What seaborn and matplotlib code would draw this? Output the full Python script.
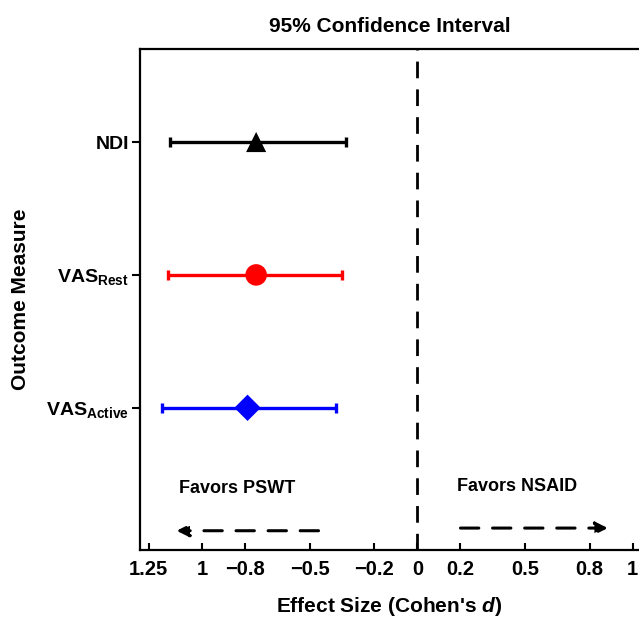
import matplotlib
matplotlib.use("Agg")
import matplotlib.pyplot as plt
import seaborn as sns
import pandas as pd

# ---- data ----
measures = ["NDI", "VAS_Rest", "VAS_Active"]
measure_labels = [r"NDI", r"VAS$_{\mathbf{Rest}}$", r"VAS$_{\mathbf{Active}}$"]
measure_pos = [3, 2, 1]
effect = [-0.75, -0.75, -0.79]
ci_low = [-1.15, -1.16, -1.19]
ci_high = [-0.33, -0.35, -0.38]
colors = ["black", "red", "blue"]
markers = ["^", "o", "D"]

xtick_vals = [-1.25, -1.0, -0.8, -0.5, -0.2, 0, 0.2, 0.5, 0.8, 1.0]
xtick_labels = ["1.25", "1", "\u22120.8", "\u22120.5", "\u22120.2", "0", "0.2", "0.5", "0.8", "1"]

sns.set_style("ticks")
plt.rcParams["font.family"] = ["Liberation Sans", "DejaVu Sans"]
plt.rcParams["font.weight"] = "bold"
plt.rcParams["text.color"] = "black"
plt.rcParams["axes.labelcolor"] = "black"
plt.rcParams["xtick.color"] = "black"
plt.rcParams["ytick.color"] = "black"
plt.rcParams["mathtext.fontset"] = "custom"
plt.rcParams["mathtext.rm"] = "Liberation Sans:bold"
plt.rcParams["mathtext.bf"] = "Liberation Sans:bold"
plt.rcParams["mathtext.it"] = "Liberation Sans:italic:bold"

df = pd.DataFrame({"measure": measures, "pos": measure_pos, "effect": effect,
                   "lo": ci_low, "hi": ci_high})

fig = plt.figure(figsize=(6.39, 6.17), dpi=100)
ax = fig.add_axes([140 / 639, 67 / 617, 499 / 639, 501 / 617])

for i, row in df.iterrows():
    ax.errorbar([row["effect"]], [row["pos"]],
                xerr=[[row["effect"] - row["lo"]], [row["hi"] - row["effect"]]],
                fmt="none", ecolor=colors[i], elinewidth=2.4, capsize=3.5,
                capthick=2.4, zorder=2)

sns.scatterplot(data=df, x="effect", y="pos", hue="measure", style="measure",
                palette=dict(zip(measures, colors)),
                markers=dict(zip(measures, markers)),
                s=[210, 240, 180], linewidth=0, legend=False, ax=ax, zorder=3)

ax.axvline(0, color="black", lw=2, ls=(0, (6, 4)), zorder=1)

# arrows
ax.annotate("", xy=(-1.12, 0.075), xytext=(-0.46, 0.075),
            arrowprops=dict(arrowstyle="-|>", color="black", lw=2.2,
                            ls=(0, (6, 4.5)), mutation_scale=18, shrinkA=0, shrinkB=0))
ax.annotate("", xy=(0.885, 0.095), xytext=(0.2, 0.095),
            arrowprops=dict(arrowstyle="-|>", color="black", lw=2.2,
                            ls=(0, (6, 4.5)), mutation_scale=18, shrinkA=0, shrinkB=0))
ax.text(-0.837, 0.39, "Favors PSWT", ha="center", va="center", fontsize=13, fontweight="bold")
ax.text(0.465, 0.405, "Favors NSAID", ha="center", va="center", fontsize=13, fontweight="bold")

ax.set_xlim(-1.29, 1.03)
ax.set_ylim(-0.07, 3.70)
ax.set_xticks(xtick_vals)
ax.set_xticklabels(xtick_labels, fontsize=14.5, fontweight="bold")
ax.set_yticks(measure_pos)
ax.set_yticklabels(measure_labels, fontsize=14, fontweight="bold")
ax.tick_params(axis="x", direction="in", length=5, width=1.5, pad=7)
ax.tick_params(axis="y", direction="out", length=6, width=1.5, pad=2)

for s in ["left", "bottom", "top"]:
    ax.spines[s].set_linewidth(1.6)
    ax.spines[s].set_color("black")
ax.spines["right"].set_visible(False)

ax.set_title("95% Confidence Interval", fontsize=15, fontweight="bold", pad=12)
ax.set_xlabel(r"Effect Size (Cohen's $\mathit{d}$)", fontsize=15, fontweight="bold", labelpad=12)
ax.set_ylabel("Outcome Measure", fontsize=15, fontweight="bold")
ax.yaxis.set_label_coords(-0.22, 0.5)

fig.savefig("out.png", dpi=100)
